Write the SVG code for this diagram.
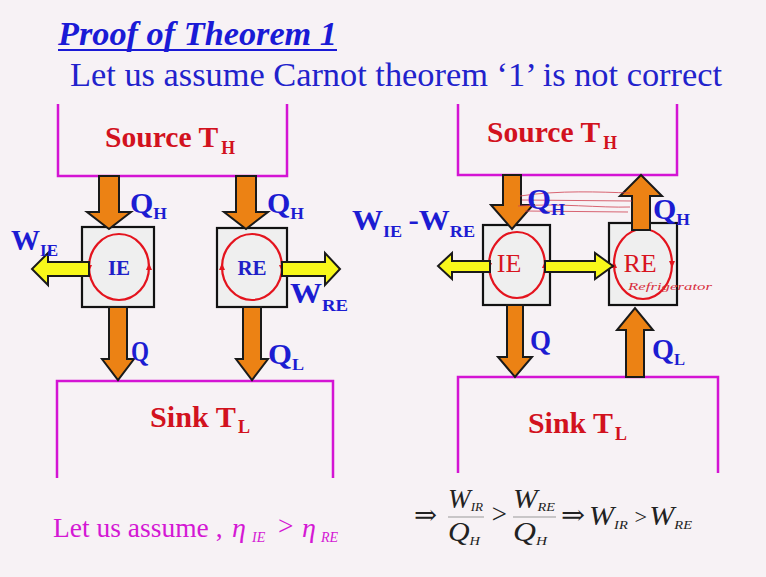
<svg xmlns="http://www.w3.org/2000/svg" width="766" height="577" viewBox="0 0 766 577">
<style>
.title{font-family:"Liberation Serif",serif;font-weight:bold;font-style:italic;fill:#1a1ad6;font-size:34px}
.sub{font-family:"Liberation Serif",serif;fill:#2222cc;font-size:34px}
.res{fill:none;stroke:#d414d4;stroke-width:2.5}
.resT{font-family:"Liberation Serif",serif;font-weight:bold;fill:#d2121e;font-size:30px}
.s{font-size:18px}
.box{fill:#efefef;stroke:#111;stroke-width:2.2}
.cyc{fill:none;stroke:#e4141e;stroke-width:2.2}
.tick{fill:#e4141e}
.heat{fill:#ec8214;stroke:#1a1a1a;stroke-width:2;stroke-linejoin:miter}
.work{fill:#f8f81a;stroke:#1a1a1a;stroke-width:2}
.lbl{font-family:"Liberation Serif",serif;font-weight:bold;fill:#1c1cd2;font-size:29px}
.ls{font-size:17px}
.engB{font-family:"Liberation Serif",serif;font-weight:bold;fill:#2020c8;font-size:21px}
.engR{font-family:"Liberation Serif",serif;fill:#d8141e;font-size:26px}
.math{font-family:"Liberation Serif",serif;font-style:italic;fill:#222;font-size:27px}
.ms{font-size:13px}
.arr{font-family:"DejaVu Serif","DejaVu Sans",serif;fill:#222;font-size:27px}
.pink{font-family:"Liberation Serif",serif;fill:#d418d4;font-size:27.5px}
.pi{font-family:"Liberation Serif",serif;fill:#d418d4;font-style:italic;font-size:28px}
.ps{font-family:"Liberation Serif",serif;fill:#d418d4;font-style:italic;font-size:14px}
</style>
<rect width="766" height="577" fill="#f7f2f5"/>

<g id="title">
<text class="title" x="58" y="45" textLength="279" lengthAdjust="spacingAndGlyphs">Proof of Theorem 1</text>
<line x1="58" y1="50" x2="337" y2="50" stroke="#1a1ad6" stroke-width="2"/>
<text class="sub" x="70" y="86" textLength="652" lengthAdjust="spacingAndGlyphs">Let us assume Carnot theorem ‘1’ is not correct</text>
</g>

<!-- LEFT DIAGRAM -->
<g id="source-left">
<path class="res" d="M58,104 V176 H287 V104"/>
<text class="resT" x="105" y="147" textLength="130" lengthAdjust="spacingAndGlyphs">Source T<tspan class="s" dx="3" dy="7">H</tspan></text>
</g>
<g id="sink-left">
<path class="res" d="M57,478 V381 H333 V478"/>
<text class="resT" x="150" y="427" textLength="100" lengthAdjust="spacingAndGlyphs">Sink T<tspan class="s" dx="2" dy="6">L</tspan></text>
</g>
<g id="IE-left">
<rect class="box" x="82" y="227" width="72" height="80"/>
<ellipse class="cyc" cx="119" cy="267" rx="30" ry="33"/>
<path class="tick" d="M86,265 L92,265 L89,272 Z"/>
<path class="tick" d="M146,270 L152,270 L149,263 Z"/>
<text class="engB" x="119" y="275" text-anchor="middle">IE</text>
</g>
<g id="RE-left">
<rect class="box" x="217" y="228" width="70" height="79"/>
<ellipse class="cyc" cx="252" cy="267" rx="30" ry="33"/>
<path class="tick" d="M219,270 L225,270 L222,263 Z"/>
<path class="tick" d="M279,265 L285,265 L282,272 Z"/>
<text class="engB" x="252" y="275" text-anchor="middle">RE</text>
</g>

<!-- RIGHT DIAGRAM -->
<g id="source-right">
<path class="res" d="M458,104 V175 H677 V104"/>
<text class="resT" x="487" y="142" textLength="130" lengthAdjust="spacingAndGlyphs">Source T<tspan class="s" dx="3" dy="7">H</tspan></text>
</g>
<g id="sink-right">
<path class="res" d="M458,473 V377 H718 V473"/>
<text class="resT" x="528" y="433" textLength="99" lengthAdjust="spacingAndGlyphs">Sink T<tspan class="s" dx="2" dy="7">L</tspan></text>
</g>
<g id="IE-right">
<rect class="box" x="483" y="225" width="67" height="80"/>
<ellipse class="cyc" cx="517" cy="265" rx="28" ry="33"/>
<path class="tick" d="M486,263 L492,263 L489,270 Z"/>
<path class="tick" d="M542,268 L548,268 L545,261 Z"/>
<text class="engR" x="509" y="272" text-anchor="middle">IE</text>
</g>
<g id="RE-right">
<rect class="box" x="609" y="223" width="68" height="82"/>
<ellipse class="cyc" cx="643" cy="264" rx="29" ry="35"/>
<path class="tick" d="M611,268 L617,268 L614,261 Z"/>
<path class="tick" d="M669,261 L675,261 L672,268 Z"/>
<text class="engR" x="640" y="272" text-anchor="middle">RE</text>
<text x="628" y="290" font-family="Liberation Serif,serif" font-style="italic" font-size="11" fill="#d83040" textLength="84" lengthAdjust="spacingAndGlyphs">Refrigerator</text>
</g>

<g id="connectors">
<polygon class="heat" points="99,176 119,176 119,212 131,212 109,229 87,212 99,212"/>
<polygon class="heat" points="236,176 256,176 256,212 268,212 246,229 224,212 236,212"/>
<polygon class="heat" points="109,307 127,307 127,359 134,359 118,380 102,359 109,359"/>
<polygon class="heat" points="243,307 261,307 261,359 268,359 252,380 236,359 243,359"/>
<polygon class="work" points="89,262 48,262 48,253 32,269 48,285 48,276 89,276"/>
<polygon class="work" points="282,262 325,262 325,253 340,269 325,285 325,276 282,276"/>
<polygon class="heat" points="503,175 521,175 521,205 533,205 512,229 491,205 503,205"/>
<polygon class="heat" points="507,305 523,305 523,357 532,357 515,377 498,357 507,357"/>
<polygon class="heat" points="632,230 650,230 650,196 662,196 641,175 620,196 632,196"/>
<polygon class="heat" points="626,377 644,377 644,330 653,330 635,308 617,330 626,330"/>
<polygon class="work" points="490,261 452,261 452,253 438,266 452,279 452,272 490,272"/>
<polygon class="work" points="545,261 595,261 595,253 613,266 595,279 595,272 545,272"/>
<path d="M520,196 C560,190 600,192 630,193 M522,200 L632,201 M518,206 C560,203 600,208 630,207 M525,211 L628,212" fill="none" stroke="#d04050" stroke-width="1" opacity="0.8"/>
</g>

<g id="labels">
<text class="lbl" x="130" y="213" textLength="37" lengthAdjust="spacingAndGlyphs">Q<tspan class="ls" dy="6">H</tspan></text>
<text class="lbl" x="267" y="213" textLength="37" lengthAdjust="spacingAndGlyphs">Q<tspan class="ls" dy="6">H</tspan></text>
<text class="lbl" x="131" y="361" textLength="18" lengthAdjust="spacingAndGlyphs">Q</text>
<text class="lbl" x="268" y="364" textLength="36" lengthAdjust="spacingAndGlyphs">Q<tspan class="ls" dy="6">L</tspan></text>
<text class="lbl" x="11" y="250" textLength="47" lengthAdjust="spacingAndGlyphs">W<tspan class="ls" dy="6">IE</tspan></text>
<text class="lbl" x="290" y="303" textLength="58" lengthAdjust="spacingAndGlyphs">W<tspan class="ls" dy="8">RE</tspan></text>

<text class="lbl" x="527" y="209" textLength="38" lengthAdjust="spacingAndGlyphs">Q<tspan class="ls" dy="6">H</tspan></text>
<text class="lbl" x="653" y="219" textLength="37" lengthAdjust="spacingAndGlyphs">Q<tspan class="ls" dy="6">H</tspan></text>
<text class="lbl" x="530" y="350" textLength="21" lengthAdjust="spacingAndGlyphs">Q</text>
<text class="lbl" x="652" y="359" textLength="33" lengthAdjust="spacingAndGlyphs">Q<tspan class="ls" dy="6">L</tspan></text>
<text class="lbl" x="352" y="230" textLength="123" lengthAdjust="spacingAndGlyphs">W<tspan class="ls" dy="7">IE</tspan><tspan dx="6" dy="-7">-W</tspan><tspan class="ls" dy="7">RE</tspan></text>
</g>

<g id="bottom">
<text class="pink" x="53" y="537">Let us assume ,</text>
<text class="pi" x="232" y="537">η</text>
<text class="ps" x="252" y="542">IE</text>
<text class="pink" x="278" y="535" font-size="26">&gt;</text>
<text class="pi" x="302" y="537">η</text>
<text class="ps" x="321" y="542">RE</text>

<text class="arr" x="414" y="524" textLength="23" lengthAdjust="spacingAndGlyphs">⇒</text>
<text class="math" x="448" y="508" textLength="35" lengthAdjust="spacingAndGlyphs">W<tspan class="ms" dy="3">IR</tspan></text>
<line x1="448" y1="517" x2="484" y2="517" stroke="#999" stroke-width="1"/>
<text class="math" x="448" y="541" textLength="32" lengthAdjust="spacingAndGlyphs">Q<tspan class="ms" dy="4">H</tspan></text>
<text class="math" x="490" y="523" font-style="normal" font-size="20">&gt;</text>
<text class="math" x="513" y="508" textLength="42" lengthAdjust="spacingAndGlyphs">W<tspan class="ms" dy="3">RE</tspan></text>
<line x1="513" y1="517" x2="556" y2="517" stroke="#999" stroke-width="1"/>
<text class="math" x="513" y="541" textLength="34" lengthAdjust="spacingAndGlyphs">Q<tspan class="ms" dy="4">H</tspan></text>
<text class="arr" x="561" y="524" textLength="24" lengthAdjust="spacingAndGlyphs">⇒</text>
<text class="math" x="589" y="525" textLength="103" lengthAdjust="spacingAndGlyphs">W<tspan class="ms" dy="4">IR</tspan><tspan font-style="normal" font-size="20" dx="6" dy="-5">&gt;</tspan><tspan dx="2" dy="1">W</tspan><tspan class="ms" dy="4">RE</tspan></text>
</g>
</svg>
